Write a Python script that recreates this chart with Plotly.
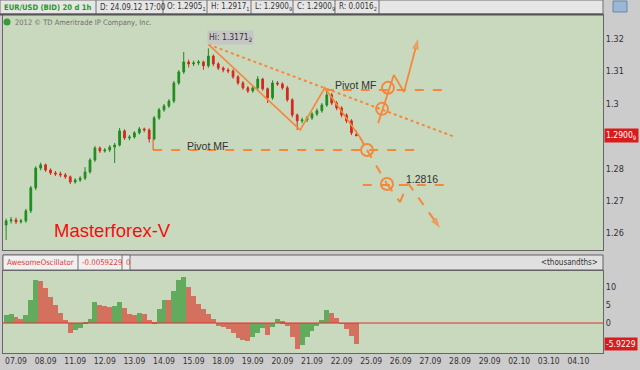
import plotly.graph_objects as go

# ---------------- data ----------------
day_labels = ["07.09", "08.09", "11.09", "12.09", "13.09", "14.09", "15.09", "18.09", "19.09", "20.09",
              "21.09", "22.09", "25.09", "26.09", "27.09", "28.09", "29.09", "02.10", "03.10", "04.10"]
day_ticks = [2 + 6 * k for k in range(len(day_labels))]   # 6 four-hour bars per day

bar_idx = list(range(72))
opens = [1.2625, 1.2638, 1.2641, 1.2635, 1.2638, 1.2669, 1.2740, 1.2801, 1.2811, 1.2795,
         1.2786, 1.2783, 1.2780, 1.2774, 1.2758, 1.2764, 1.2770, 1.2789, 1.2826, 1.2863,
         1.2854, 1.2857, 1.2866, 1.2872, 1.2916, 1.2894, 1.2897, 1.2910, 1.2922, 1.2919,
         1.2891, 1.2956, 1.2981, 1.2993, 1.3008, 1.3064, 1.3098, 1.3129, 1.3123, 1.3126,
         1.3129, 1.3117, 1.3147, 1.3123, 1.3110, 1.3104, 1.3101, 1.3083, 1.3064, 1.3049,
         1.3039, 1.3049, 1.3076, 1.3046, 1.3018, 1.3064, 1.3061, 1.3049, 1.3012, 1.2965,
         1.2947, 1.2950, 1.2956, 1.2968, 1.2978, 1.2996, 1.3027, 1.3002, 1.2987, 1.2965,
         1.2947, 1.2905]
closes = [1.2638, 1.2641, 1.2635, 1.2638, 1.2669, 1.2740, 1.2801, 1.2811, 1.2795, 1.2786,
          1.2783, 1.2780, 1.2774, 1.2758, 1.2764, 1.2770, 1.2789, 1.2826, 1.2863, 1.2854,
          1.2857, 1.2866, 1.2872, 1.2916, 1.2894, 1.2897, 1.2910, 1.2922, 1.2919, 1.2891,
          1.2956, 1.2981, 1.2993, 1.3008, 1.3064, 1.3098, 1.3129, 1.3123, 1.3126, 1.3129,
          1.3117, 1.3147, 1.3123, 1.3110, 1.3104, 1.3101, 1.3083, 1.3064, 1.3049, 1.3039,
          1.3049, 1.3076, 1.3046, 1.3018, 1.3064, 1.3061, 1.3049, 1.3012, 1.2965, 1.2947,
          1.2950, 1.2956, 1.2968, 1.2978, 1.2996, 1.3027, 1.3002, 1.2987, 1.2965, 1.2947,
          1.2910, 1.2901]
highs = [1.2645, 1.2650, 1.2648, 1.2644, 1.2675, 1.2746, 1.2807, 1.2818, 1.2815, 1.2800,
         1.2792, 1.2790, 1.2786, 1.2778, 1.2770, 1.2776, 1.2804, 1.2832, 1.2869, 1.2868,
         1.2863, 1.2872, 1.2879, 1.2925, 1.2921, 1.2903, 1.2915, 1.2928, 1.2926, 1.2924,
         1.2962, 1.2987, 1.2999, 1.3014, 1.3070, 1.3104, 1.3160, 1.3136, 1.3133, 1.3135,
         1.3133, 1.3171, 1.3152, 1.3128, 1.3115, 1.3110, 1.3106, 1.3088, 1.3070, 1.3054,
         1.3055, 1.3085, 1.3080, 1.3050, 1.3072, 1.3070, 1.3066, 1.3055, 1.3017, 1.2970,
         1.2957, 1.2962, 1.2974, 1.2985, 1.3002, 1.3045, 1.3033, 1.3008, 1.2992, 1.2970,
         1.2952, 1.2917]
lows = [1.2579, 1.2630, 1.2628, 1.2630, 1.2632, 1.2662, 1.2733, 1.2794, 1.2789, 1.2780,
        1.2777, 1.2773, 1.2768, 1.2752, 1.2753, 1.2758, 1.2764, 1.2784, 1.2820, 1.2848,
        1.2849, 1.2851, 1.2817, 1.2868, 1.2888, 1.2887, 1.2892, 1.2905, 1.2912, 1.2880,
        1.2887, 1.2950, 1.2975, 1.2987, 1.3002, 1.3058, 1.3092, 1.3112, 1.3116, 1.3119,
        1.3105, 1.3111, 1.3116, 1.3104, 1.3097, 1.3094, 1.3077, 1.3058, 1.3043, 1.3033,
        1.3034, 1.3043, 1.3040, 1.3002, 1.3012, 1.3055, 1.3043, 1.3006, 1.2958, 1.2919,
        1.2940, 1.2943, 1.2950, 1.2962, 1.2972, 1.2990, 1.2996, 1.2980, 1.2958, 1.2940,
        1.2903, 1.2900]

ao_values = [2.2, 2.6, 1.8, 1.2, 2.2, 6.5, 11.9, 11.6, 9.7, 7.2,
             4.9, 2.9, 0.8, -2.8, -2.0, -1.4, 0.3, 1.2, 5.9, 5.0,
             4.6, 4.5, 4.8, 5.7, 4.2, 2.6, 2.3, 2.8, 2.6, 0.9,
             0.2, 4.0, 6.5, 6.3, 8.8, 11.8, 12.8, 10.0, 7.5, 5.2,
             3.8, 2.4, 1.1, -0.9, -1.2, -1.6, -2.8, -4.1, -4.8, -5.1,
             -3.8, -2.8, -1.4, -3.2, -1.2, 1.1, 0.5, -0.8, -4.0, -7.2,
             -6.0, -4.0, -2.2, -0.8, 0.8, 3.5, 2.9, 1.5, -0.2, -1.6,
             -3.5, -5.9229]

price_ticks = [1.26, 1.27, 1.28, 1.30, 1.31, 1.32]
price_tick_text = ["1.26", "1.27", "1.28", "1.3", "1.31", "1.32"]
ao_ticks = [0, 5, 10]
ao_tick_text = ["0", "5", "10"]

# drawing objects (bar index, price)
wave_x = [41, 59.6, 64.6, 71.7]
wave_y = [1.3183, 1.2919, 1.3049, 1.2897]
trend_x = [41, 91.0]
trend_y = [1.3183, 1.2897]
pivot_hi_x = [64.6, 88.6]
pivot_hi = 1.3042
pivot_lo_x = [29.8, 82.9]
pivot_lo = 1.2857
pivot_lo_leg_y = [1.2891, 1.2857]
target_x = [72.3, 89.6]
target_level = 1.2749
circles_x = [73.15, 76.2, 77.4, 77.2]
circles_y = [1.2857, 1.2984, 1.3049, 1.2752]
up_x = [75.4, 78.6, 80.65, 83.5]
up_y = [1.2940, 1.3089, 1.3036, 1.3200]
down_x = [71.7, 73.15, 77.2, 79.85, 81.45, 87.95]
down_y = [1.2897, 1.2857, 1.2752, 1.2696, 1.2755, 1.2616]

# ---------------- styling helpers ----------------
ORANGE = "#f5883d"
PLOT_BG = "#c9d9bd"
PAPER_BG = "#cccccc"
NARROW = "DejaVu Sans Condensed, Liberation Sans, Arial, sans-serif"
ARIAL = "Liberation Sans, Arial, sans-serif"

L, R, T, B = 3, 37, 15, 17
W, H = 640, 370
PW, PH = W - L - R, H - T - B


def px(xp):
    return (xp - L) / PW


def py(yp):
    return (H - B - yp) / PH


fig = go.Figure()

fig.add_trace(go.Candlestick(
    x=bar_idx, open=opens, high=highs, low=lows, close=closes,
    increasing=dict(line=dict(color="#1e8c1e", width=1), fillcolor="#1e8c1e"),
    decreasing=dict(line=dict(color="#d42a1e", width=1), fillcolor="#d42a1e"),
    whiskerwidth=0, xaxis="x", yaxis="y", hoverinfo="skip"))

ao_colors = ["#62ab5c"] + ["#62ab5c" if ao_values[i] >= ao_values[i - 1] else "#d4705e"
                           for i in range(1, len(ao_values))]
fig.add_trace(go.Bar(x=bar_idx, y=ao_values, marker=dict(color=ao_colors, line=dict(width=0)),
                     width=1.0, xaxis="x2", yaxis="y2", hoverinfo="skip"))

# drawings
line_kw = dict(xaxis="x", yaxis="y", hoverinfo="skip", showlegend=False)
fig.add_trace(go.Scatter(x=trend_x, y=trend_y, mode="lines",
                         line=dict(color=ORANGE, width=2, dash="dot"), **line_kw))
fig.add_trace(go.Scatter(x=wave_x, y=wave_y, mode="lines",
                         line=dict(color=ORANGE, width=1.6), **line_kw))
fig.add_trace(go.Scatter(x=pivot_hi_x, y=[pivot_hi, pivot_hi], mode="lines",
                         line=dict(color=ORANGE, width=2, dash="dash"), **line_kw))
fig.add_trace(go.Scatter(x=pivot_lo_x, y=[pivot_lo, pivot_lo], mode="lines",
                         line=dict(color=ORANGE, width=2, dash="dash"), **line_kw))
fig.add_trace(go.Scatter(x=[pivot_lo_x[0], pivot_lo_x[0]], y=pivot_lo_leg_y, mode="lines",
                         line=dict(color="#e8643c", width=1.2), **line_kw))
fig.add_trace(go.Scatter(x=target_x, y=[target_level, target_level], mode="lines",
                         line=dict(color=ORANGE, width=2, dash="dash"), **line_kw))
fig.add_trace(go.Scatter(x=up_x, y=up_y, mode="lines+markers",
                         line=dict(color=ORANGE, width=1.8),
                         marker=dict(symbol="arrow", size=[0, 0, 0, 11], angleref="previous",
                                     color=ORANGE, line=dict(width=0)), **line_kw))
fig.add_trace(go.Scatter(x=down_x, y=down_y, mode="lines+markers",
                         line=dict(color=ORANGE, width=2, dash="dash"),
                         marker=dict(symbol="arrow", size=[0, 0, 0, 0, 0, 11], angleref="previous",
                                     color=ORANGE, line=dict(width=0)), **line_kw))
fig.add_trace(go.Scatter(x=circles_x, y=circles_y, mode="markers",
                         marker=dict(symbol="circle-open", size=12, color=ORANGE,
                                     line=dict(color=ORANGE, width=2)), **line_kw))

annotations = []
shapes = []

# header row
shapes.append(dict(type="rect", xref="paper", yref="paper", x0=px(0), x1=px(603), y0=py(0), y1=py(14),
                   fillcolor="#e6e6e6", line=dict(color="#707070", width=1), layer="above"))
cells = [("EUR/USD (BID) 20 d 1h", 0, 96), ("D: 24.09.12 17:00", 96, 163),
         ("O: 1.2905<sub>1</sub>", 163, 207), ("H: 1.2917<sub>1</sub>", 207, 251),
         ("L: 1.2900<sub>9</sub>", 251, 293), ("C: 1.2900<sub>9</sub>", 293, 335),
         ("R: 0.0016<sub>2</sub>", 335, 379)]
for i, (txt, a, b) in enumerate(cells):
    shapes.append(dict(type="line", xref="paper", yref="paper", x0=px(b), x1=px(b), y0=py(0), y1=py(14),
                       line=dict(color="#707070", width=1), layer="above"))
    if i == 0:
        f = dict(family=NARROW, size=7.6, color="#1f9a1f")
        txt = "<b>" + txt + "</b>"
    else:
        f = dict(family=NARROW, size=8, color="#333333")
    annotations.append(dict(text=txt, xref="paper", yref="paper", x=px(a + 2), y=py(7.5),
                            xanchor="left", yanchor="middle", showarrow=False, font=f))
shapes.append(dict(type="line", xref="paper", yref="paper", x0=px(0), x1=px(603), y0=py(14.5), y1=py(14.5),
                   line=dict(color="#555555", width=2), layer="above"))
# top-right icon
shapes.append(dict(type="rect", xref="paper", yref="paper", x0=px(613), x1=px(627), y0=py(1), y1=py(12),
                   fillcolor="#9ab8d6", line=dict(color="#6688aa", width=1), layer="above"))

# copyright row
shapes.append(dict(type="circle", xref="paper", yref="paper", x0=px(3.5), x1=px(10.5), y0=py(18.5), y1=py(25.5),
                   fillcolor="#3a9a3a", line=dict(width=0), layer="above"))
annotations.append(dict(text="2012 © TD Ameritrade IP Company, Inc.", xref="paper", yref="paper",
                        x=px(13), y=py(22), xanchor="left", yanchor="middle", showarrow=False,
                        font=dict(family=NARROW, size=7.5, color="#707070")))

# lower panel header
shapes.append(dict(type="rect", xref="paper", yref="paper", x0=px(3), x1=px(603), y0=py(255), y1=py(270),
                   fillcolor="#e0e0e0", line=dict(color="#606060", width=1), layer="above"))
shapes.append(dict(type="rect", xref="paper", yref="paper", x0=px(3), x1=px(130), y0=py(255), y1=py(270),
                   fillcolor="#f0f0f0", line=dict(color="#707070", width=1), layer="above"))
for xb in (78, 122):
    shapes.append(dict(type="line", xref="paper", yref="paper", x0=px(xb), x1=px(xb), y0=py(255), y1=py(270),
                       line=dict(color="#707070", width=1), layer="above"))
for txt, a in (("AwesomeOscillator", 4.5), ("-0.0059229", 80), ("0", 124)):
    annotations.append(dict(text=txt, xref="paper", yref="paper", x=px(a), y=py(262.5), xanchor="left",
                            yanchor="middle", showarrow=False, font=dict(family=NARROW, size=7.8, color="#e03a3a")))
annotations.append(dict(text="&lt;thousandths&gt;", xref="paper", yref="paper", x=px(600), y=py(262.5),
                        xanchor="right", yanchor="middle", showarrow=False,
                        font=dict(family=NARROW, size=8, color="#333333")))

# chart text
annotations.append(dict(text="Masterforex-V", xref="paper", yref="paper", x=px(52), y=py(230),
                        xanchor="left", yanchor="middle", showarrow=False,
                        font=dict(family=ARIAL, size=18.5, color="#ee1111")))
annotations.append(dict(text="Hi: 1.3171<sub>2</sub>", xref="x", yref="y", x=45.4, y=1.3203,
                        xanchor="center", yanchor="middle", showarrow=False, bgcolor="#c6c6c6",
                        borderpad=1, font=dict(family=NARROW, size=8.5, color="#333333")))
annotations.append(dict(text="Pivot MF", xref="x", yref="y", x=70.9, y=pivot_hi + 0.0016,
                        xanchor="center", yanchor="middle", showarrow=False,
                        font=dict(family=ARIAL, size=10.5, color="#333333")))
annotations.append(dict(text="Pivot MF", xref="x", yref="y", x=40.9, y=pivot_lo + 0.0013,
                        xanchor="center", yanchor="middle", showarrow=False,
                        font=dict(family=ARIAL, size=10.5, color="#333333")))
annotations.append(dict(text="1.2816", xref="x", yref="y", x=84.3, y=target_level + 0.0018,
                        xanchor="center", yanchor="middle", showarrow=False,
                        font=dict(family=ARIAL, size=10.5, color="#333333")))

# last value labels on the right axis
annotations.append(dict(text="1.2900<sub>9</sub>", xref="paper", yref="y", x=px(604), y=closes[-1],
                        xanchor="left", yanchor="middle", showarrow=False, bgcolor="#d81c1c",
                        borderpad=1, font=dict(family=NARROW, size=8.5, color="#ffffff")))
annotations.append(dict(text="-5.9229", xref="paper", yref="y2", x=px(604), y=ao_values[-1],
                        xanchor="left", yanchor="middle", showarrow=False, bgcolor="#d81c1c",
                        borderpad=1, font=dict(family=NARROW, size=8.5, color="#ffffff")))

# AO zero line
shapes.append(dict(type="line", xref="x2 domain", yref="y2", x0=0, x1=1, y0=0, y1=0,
                   line=dict(color="#e0302a", width=1)))

axis_common = dict(showgrid=False, zeroline=False, showline=True, mirror=True,
                   linecolor="#666666", linewidth=1, ticks="")
fig.update_layout(
    width=W, height=H,
    margin=dict(l=L, r=R, t=T, b=B),
    paper_bgcolor=PAPER_BG, plot_bgcolor=PLOT_BG,
    showlegend=False, boxgap=0.5,
    xaxis=dict(domain=[0, 1], anchor="y", range=[-0.635, 120.99], showticklabels=False,
               rangeslider=dict(visible=False), **axis_common),
    yaxis=dict(domain=[py(250), 1], anchor="x", side="right", range=[1.2548, 1.3274],
               tickvals=price_ticks, ticktext=price_tick_text,
               tickfont=dict(family=NARROW, size=9, color="#333333"), **axis_common),
    xaxis2=dict(domain=[0, 1], anchor="y2", matches="x", range=[-0.635, 120.99],
                tickvals=day_ticks, ticktext=day_labels,
                tickfont=dict(family=NARROW, size=8.5, color="#333333"), **axis_common),
    yaxis2=dict(domain=[0, py(271)], anchor="x2", side="right", range=[-8.3, 14.4],
                tickvals=ao_ticks, ticktext=ao_tick_text,
                tickfont=dict(family=NARROW, size=9, color="#333333"), **axis_common),
    bargap=0,
    annotations=annotations,
    shapes=shapes,
)

fig.write_html("out.html", config={"displayModeBar": False})
